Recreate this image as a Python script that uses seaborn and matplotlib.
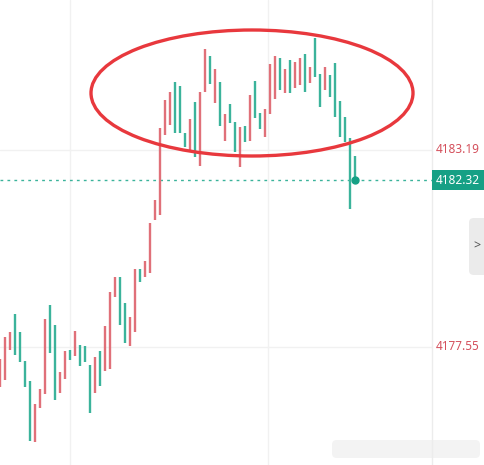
import matplotlib
matplotlib.use("Agg")
import matplotlib.pyplot as plt
import matplotlib.transforms as mtransforms
from matplotlib.patches import Ellipse, FancyBboxPatch
import numpy as np
import pandas as pd
import seaborn as sns

# ---- data ----
opens = [4176.41, 4176.61, 4177.46, 4178.49, 4177.98, 4177.15, 4176.58, 4174.83, 4175.80, 4176.20,
         4178.75, 4178.18, 4176.23, 4176.63, 4177.46, 4177.29, 4177.61, 4177.58, 4177.03, 4176.23,
         4177.44, 4176.86, 4176.92, 4178.98, 4179.55, 4178.81, 4177.58, 4177.98, 4179.78, 4179.55,
         4179.67, 4181.19, 4181.33, 4183.62, 4183.91, 4185.14, 4185.02, 4183.68, 4183.13, 4184.56,
         4182.73, 4184.85, 4185.88, 4184.53, 4185.14, 4183.45, 4184.51, 4183.99, 4182.70, 4183.88,
         4183.45, 4185.17, 4184.25, 4183.56, 4184.22, 4184.65, 4185.82, 4184.82, 4185.77, 4184.96,
         4185.05, 4185.94, 4185.11, 4186.40, 4185.37, 4184.91, 4185.34, 4185.68, 4184.59, 4184.13,
         4183.53, 4183.02]
closes = [4177.21, 4177.84, 4177.98, 4177.32, 4177.12, 4176.41, 4174.86, 4175.92, 4176.35, 4178.35,
          4177.38, 4176.03, 4176.83, 4177.44, 4177.18, 4178.01, 4177.01, 4177.12, 4175.66, 4177.26,
          4176.43, 4178.15, 4179.12, 4179.55, 4178.18, 4177.66, 4178.41, 4179.78, 4179.41, 4180.01,
          4181.10, 4181.76, 4183.82, 4184.62, 4184.85, 4183.68, 4183.68, 4183.28, 4184.08, 4182.99,
          4184.85, 4186.08, 4185.08, 4185.51, 4183.88, 4184.22, 4183.96, 4183.13, 4183.85, 4183.42,
          4184.76, 4184.11, 4183.79, 4184.36, 4185.65, 4185.88, 4184.91, 4185.51, 4184.82, 4185.71,
          4185.82, 4184.85, 4185.57, 4185.28, 4184.42, 4185.57, 4184.71, 4184.13, 4183.56, 4183.42,
          4181.50, 4182.32]
price_lines = [4183.19, 4177.55]
last_price = 4182.32
price_fmt = "{:.2f}"

RED = "#e07079"
GREEN = "#3bb39b"
TEAL = "#16a085"
LABEL_RED = "#d4505c"

sns.set_style("white")
plt.rcParams["font.family"] = ["Noto Sans", "DejaVu Sans"]

W, H = 485, 465
fig = plt.figure(figsize=(W / 100, H / 100), dpi=100)
fig.patch.set_facecolor("white")
ax = fig.add_axes([0, 0, 432 / W, 1])
ax.set_facecolor("white")

rows = []
for i, (o, c) in enumerate(zip(opens, closes)):
    d = "up" if c >= o else "down"
    rows.append({"i": i, "price": o, "dir": d})
    rows.append({"i": i, "price": c, "dir": d})
df = pd.DataFrame(rows)

# grid lines
for gx in (13.93, 53.6):
    ax.axvline(gx, color="#f1f1f1", lw=1, zorder=0)
for p in price_lines:
    ax.axhline(p, color="#f1f1f1", lw=1, zorder=0)

sns.lineplot(data=df, x="i", y="price", units="i", estimator=None, hue="dir",
             palette={"up": RED, "down": GREEN}, linewidth=1.7, legend=False,
             ax=ax, solid_capstyle="butt", zorder=3)

ax.set_xlim(-0.1, 86.47)
ax.set_ylim(4174.17, 4187.48)
ax.set_xlabel("")
ax.set_ylabel("")
ax.set_xticks([])
ax.set_yticks([])
for s in ax.spines.values():
    s.set_visible(False)

# last price dotted line + dot
ax.axhline(last_price, color=GREEN, ls=(0, (2, 3)), lw=1, zorder=2)
ax.plot([len(closes) - 1], [last_price], "o", ms=5, color=TEAL, zorder=4)

# ellipse annotation
ell = Ellipse((252 / 432, 1 - 93 / 465), 322 / 432, 126 / 465, transform=ax.transAxes,
              fill=False, ec="#e8383d", lw=2.4, clip_on=False, zorder=5)
ax.add_patch(ell)

# right price axis
fig.add_artist(plt.Line2D([432 / W, 432 / W], [0, 1], color="#ececec", lw=1,
                          transform=fig.transFigure))
tr = mtransforms.blended_transform_factory(fig.transFigure, ax.transData)
for p in price_lines:
    fig.text(436 / W, p, price_fmt.format(p), transform=tr, color=LABEL_RED,
             fontsize=8.5, va="center", ha="left")
fig.text(436 / W, last_price, price_fmt.format(last_price), transform=tr, color="white",
         fontsize=8.5, va="center", ha="left",
         bbox=dict(boxstyle="square,pad=0.3", fc=TEAL, ec="none"))

# collapse button at right edge
fig.add_artist(FancyBboxPatch((469 / W, (H - 275) / H), 30 / W, 57 / H,
                              boxstyle="round,pad=0,rounding_size=0.01",
                              fc="#ebebeb", ec="none", transform=fig.transFigure))
fig.text(477 / W, 1 - 246 / H, ">", color="#555555", fontsize=9, ha="center", va="center")

# faint watermark area at bottom
fig.add_artist(FancyBboxPatch((332 / W, (H - 458) / H), 148 / W, 18 / H,
                              boxstyle="round,pad=0,rounding_size=0.01",
                              fc="#f3f3f3", ec="none", transform=fig.transFigure))

fig.savefig("out.png", dpi=100, facecolor="white")
